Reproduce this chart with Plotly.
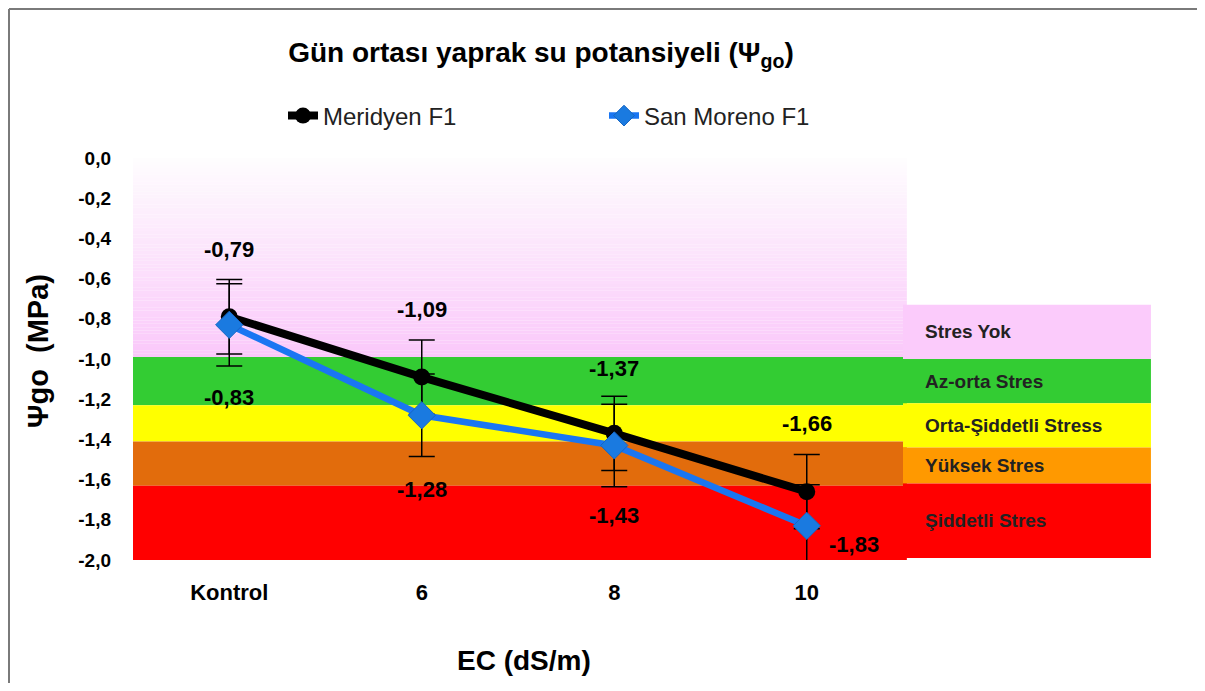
import plotly.graph_objects as go

# ---------------- data ----------------
categories = ["Kontrol", "6", "8", "10"]
meridyen = [-0.79, -1.09, -1.37, -1.66]
san_moreno = [-0.83, -1.28, -1.43, -1.83]
meridyen_err = [0.185, 0.185, 0.185, 0.185]
san_moreno_err = [0.205, 0.205, 0.205, 0.205]

y_ticks = [0.0, -0.2, -0.4, -0.6, -0.8, -1.0, -1.2, -1.4, -1.6, -1.8, -2.0]

# background stress bands inside the plot (top, bottom)
band_limits = [(-0.99, -1.23), (-1.23, -1.41), (-1.41, -1.63), (-1.63, -2.0)]
band_colors = ["#33cc33", "#ffff00", "#e26c0c", "#ff0000"]
pink_top, pink_bottom = 0.0, -0.99

# stress legend boxes on the right
stress_names = ["Stres Yok", "Az-orta Stres", "Orta-Şiddetli Stress", "Yüksek Stres", "Şiddetli Stres"]
stress_limits = [(-0.73, -1.0), (-1.0, -1.22), (-1.22, -1.44), (-1.44, -1.62), (-1.62, -1.99)]
stress_colors = ["#fbcbfb", "#33cc33", "#ffff00", "#ff9900", "#ff0000"]

FONT = "Liberation Sans, Arial, sans-serif"

# the figure sits 8 px inside the page (body margin)
OFF = 8
W, H = 1189, 675
ML, MT = 125, 150
PW, PH = 770, 402
MR = W - ML - PW
MB = H - MT - PH

fig = go.Figure()

fig.add_trace(go.Scatter(
    x=categories, y=meridyen, name="Meridyen F1", mode="lines+markers",
    line=dict(color="#000000", width=8),
    marker=dict(symbol="circle", size=17, color="#000000"),
    error_y=dict(type="data", array=meridyen_err, visible=True, color="#000000",
                 thickness=1.5, width=13),
))
fig.add_trace(go.Scatter(
    x=categories, y=san_moreno, name="San Moreno F1", mode="lines+markers",
    line=dict(color="#1a76f2", width=6.5),
    marker=dict(symbol="diamond", size=21, color="#1a7ae0",
                line=dict(color="#1766c4", width=1)),
    error_y=dict(type="data", array=san_moreno_err, visible=True, color="#000000",
                 thickness=1.5, width=13),
))

shapes = []
# pink gradient (white -> pink)
n = 60
c0 = (254, 253, 254)
c1 = (250, 200, 250)
for i in range(n):
    t0 = pink_top + (pink_bottom - pink_top) * i / n
    t1 = pink_top + (pink_bottom - pink_top) * (i + 1) / n
    f = (i + 0.5) / n
    col = "rgb(%d,%d,%d)" % tuple(round(a + (b - a) * f) for a, b in zip(c0, c1))
    shapes.append(dict(type="rect", xref="x domain", yref="y", x0=0, x1=1.005,
                       y0=t1, y1=t0, fillcolor=col, line=dict(width=0), layer="below"))
for (top, bot), col in zip(band_limits, band_colors):
    shapes.append(dict(type="rect", xref="x domain", yref="y", x0=0, x1=1.005,
                       y0=bot, y1=top, fillcolor=col, line=dict(width=0), layer="below"))

annotations = []
for (top, bot), col, name in zip(stress_limits, stress_colors, stress_names):
    shapes.append(dict(type="rect", xref="x domain", yref="y", x0=1.0, x1=1.322,
                       y0=bot, y1=top, fillcolor=col, line=dict(width=0), layer="below"))
    annotations.append(dict(xref="x domain", yref="y", x=1.026, y=(top + bot) / 2,
                            text=name, showarrow=False, xanchor="left", yanchor="middle",
                            font=dict(family=FONT, size=19, color="#222222", weight="bold")))

# outer chart frame (top + left edges visible)
fx = (1 - ML) / PW
fy = 1 + (MT - 1) / PH
shapes.append(dict(type="line", xref="paper", yref="paper",
                   x0=fx, x1=1 + (MR + 10) / PW, y0=fy, y1=fy,
                   line=dict(color="#7a7a7a", width=2)))
shapes.append(dict(type="line", xref="paper", yref="paper",
                   x0=fx, x1=fx, y0=fy, y1=-(MB + 10) / PH,
                   line=dict(color="#7a7a7a", width=2)))

def fmt(v, d=2):
    return f"{v:.{d}f}".replace(".", ",")

lab_font = dict(family=FONT, size=22, color="#000000", weight="bold")
m_shift = [67, 68, 65, 68]
for i, v in enumerate(meridyen):
    annotations.append(dict(xref="x", yref="y", x=i, y=v, text=fmt(v), showarrow=False,
                            yshift=m_shift[i], font=lab_font))
s_shift = [(0, -73), (0, -74), (0, -70), (47, -19)]
for i, v in enumerate(san_moreno):
    annotations.append(dict(xref="x", yref="y", x=i, y=v, text=fmt(v), showarrow=False,
                            xshift=s_shift[i][0], yshift=s_shift[i][1], font=lab_font))

# axis titles as annotations (positioned as in the reference)
annotations.append(dict(xref="paper", yref="paper", x=(524 - 133) / PW, y=-(660 - 560) / PH,
                        text="EC (dS/m)", showarrow=False, xanchor="center", yanchor="middle",
                        font=dict(family=FONT, size=28, color="#000000", weight="bold")))
annotations.append(dict(xref="paper", yref="paper", x=(38 - 133) / PW, y=(560 - 351) / PH,
                        text="Ψgo  (MPa)", showarrow=False, xanchor="center", yanchor="middle",
                        textangle=-90,
                        font=dict(family=FONT, size=29, color="#000000", weight="bold")))

fig.update_layout(
    width=W, height=H,
    margin=dict(l=ML, r=MR, t=MT, b=MB),
    paper_bgcolor="#ffffff", plot_bgcolor="rgba(0,0,0,0)",
    font=dict(family=FONT, color="#000000"),
    title=dict(text="Gün ortası yaprak su potansiyeli (Ψ<sub>go</sub>)",
               x=(541 - OFF) / W, xanchor="center", y=1 - (52 - OFF) / H, yanchor="middle",
               font=dict(family=FONT, size=28, color="#000000", weight="bold")),
    showlegend=True,
    legend=dict(orientation="h", x=(283 - 133) / PW, xanchor="left",
                y=1 + (158 - 116) / PH, yanchor="middle",
                font=dict(family=FONT, size=24, color="#222222"),
                entrywidth=276, entrywidthmode="pixels", bgcolor="rgba(0,0,0,0)"),
    shapes=shapes,
    annotations=annotations,
    xaxis=dict(type="category", range=[-0.5, 3.5], showgrid=False, zeroline=False,
               showline=False, ticks="", ticklabelstandoff=17,
               tickfont=dict(family=FONT, size=22, color="#000000", weight="bold")),
    yaxis=dict(range=[-2.0, 0.0], tickvals=y_ticks, ticktext=[fmt(v, 1) for v in y_ticks],
               showgrid=False, zeroline=False, showline=False, ticks="",
               ticklabelstandoff=21,
               tickfont=dict(family=FONT, size=19, color="#000000", weight="bold")),
)

fig.write_html("out.html", config={"displayModeBar": False})
